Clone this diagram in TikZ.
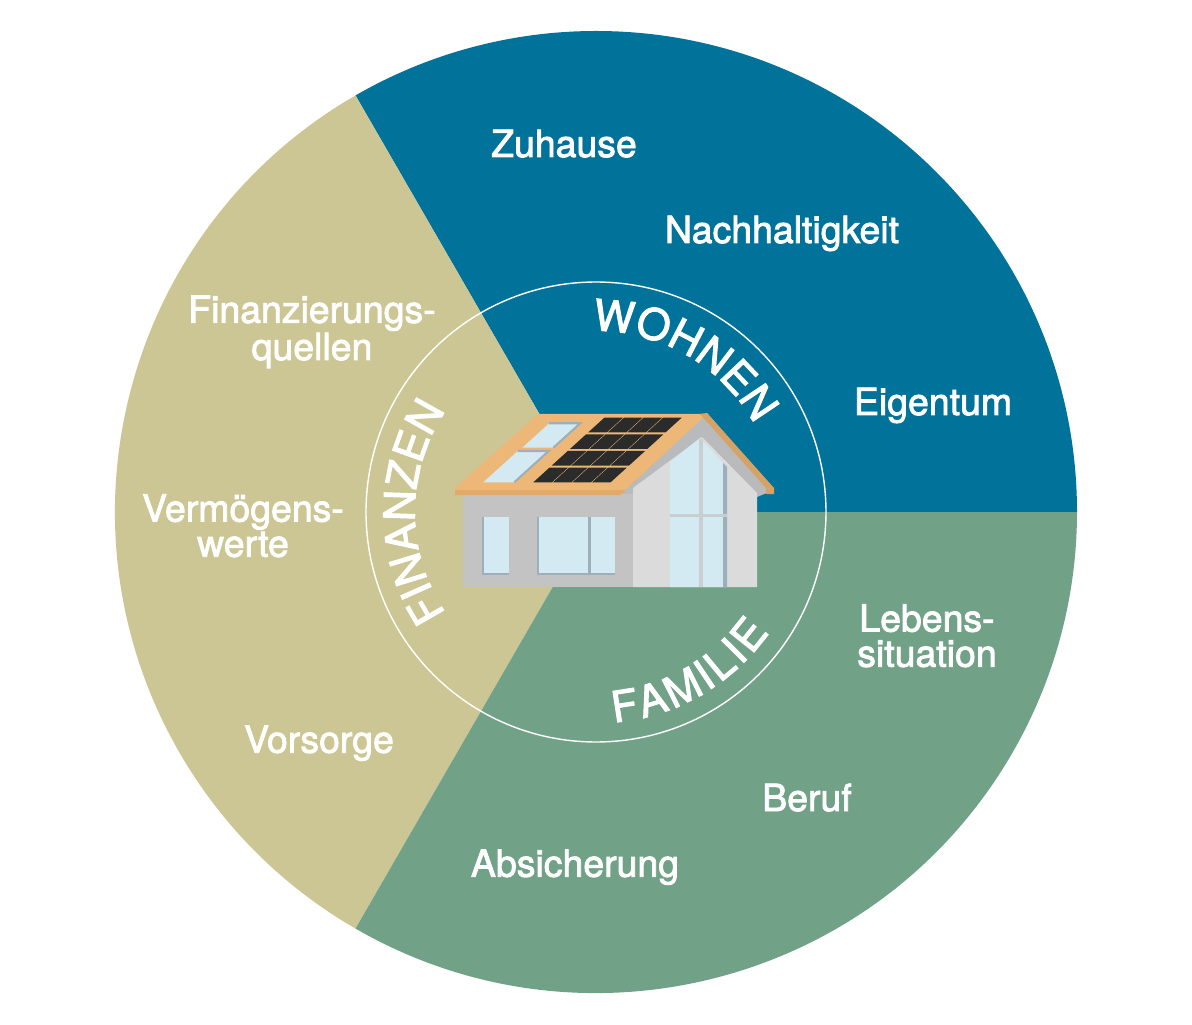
\documentclass[tikz,border=0pt]{standalone}
\usepackage{fontspec}
\newfontfamily\labelfont{TeX Gyre Heros}[FakeBold=2.2]
\usetikzlibrary{decorations.text}
\definecolor{wohnblue}{HTML}{017299}
\definecolor{finanztan}{HTML}{CCC695}
\definecolor{familiegreen}{HTML}{71A288}
\definecolor{roofface}{HTML}{EDB877}
\definecolor{roofedge}{HTML}{E2AA68}
\definecolor{roofverge}{HTML}{D7A265}
\definecolor{wallfront}{HTML}{C3C3C3}
\definecolor{wallgable}{HTML}{DBDBDB}
\definecolor{soffit}{HTML}{B9BABC}
\definecolor{glass}{HTML}{D4EAF3}
\definecolor{winframe}{HTML}{9DAFBA}
\definecolor{mullion}{HTML}{C9CED1}
\definecolor{solar}{HTML}{2B2B2B}

\begin{document}
\begin{tikzpicture}[x=0.02cm, y=0.02cm,
  lbl/.style={text=white, font=\labelfont\fontsize{21.3}{20}\selectfont, align=center, anchor=base, inner sep=0pt},
  ring/.style={decorate, decoration={text along path, text align=center,
    text={|\labelfont\fontsize{24.5}{25}\selectfont\color{white}|#1}}}]
  \fill[white] (-596,-512) rectangle (596,512);
  \useasboundingbox (-596,-512) rectangle (596,512);

  \fill[wohnblue]     (0,0) -- (0:481)   arc[start angle=0,   end angle=120, radius=481] -- cycle;
  \fill[finanztan]    (0,0) -- (120:481) arc[start angle=120, end angle=240, radius=481] -- cycle;
  \fill[familiegreen] (0,0) -- (240:481) arc[start angle=240, end angle=360, radius=481] -- cycle;
  \draw[white, line width=0.8pt] (0,0) circle (230);

  \path[ring=WOHNEN]   (100:181) arc[start angle=100, end angle=20,  radius=181];
  \path[ring=FINANZEN] (220:181) arc[start angle=220, end angle=140, radius=181];
  \path[ring={{F\kern1.7pt}{A\kern1.7pt}{M\kern1.7pt}{I\kern1.7pt}{L\kern1.7pt}{I\kern1.7pt}E}]
    (255:211) arc[start angle=255, end angle=345, radius=211];

  % house
  \fill[soffit] (24,17) -- (111,99) -- (178,22) -- (161,15) -- cycle;
  \fill[wallgable] (37,24) -- (106,75) -- (161,19) -- (161,-75) -- (37,-75) -- cycle;
  \fill[wallfront] (-133,-75) rectangle (37,18);
  \fill[glass] (74,-75) -- (74,50) -- (104,74) -- (131,45) -- (131,-75) -- cycle;
  \fill[winframe] (127,-75) -- (127,49) -- (131,45) -- (131,-75) -- cycle;
  \draw[mullion, line width=1.9pt] (105,-75) -- (105,73);
  \draw[mullion, line width=2pt] (74,-3.5) -- (131,-3.5);
  \fill[glass] (-114,-63) rectangle (-87,-5);
  \draw[winframe, line width=1.5pt] (-113,-5) -- (-113,-62) -- (-87,-62);
  \fill[glass] (-59,-63) rectangle (19,-5);
  \draw[winframe, line width=1.5pt] (-58,-5) -- (-58,-62) -- (19,-62);
  \fill[winframe] (-8.3,-63) rectangle (-5,-5);
  \fill[roofface] (-141,17) -- (-141,24) -- (-58,98) -- (111,98) -- (24,17) -- cycle;
  \fill[roofedge] (-141,17) -- (-141,22) -- (29,22) -- (24,17) -- cycle;
  \fill[roofverge] (111,99) -- (178,24) -- (178,18) -- (170,18) -- (170,24) -- (104,98) -- cycle;
  \begin{scope}[shift={(-112.7,29.7)}, xslant=1.1]
    \fill[glass] (0,0) rectangle (31,31.3);
    \fill[glass] (1,34.6) rectangle (32,59);
    \draw[winframe, line width=1.2pt] (0,31.3) -- (31,31.3) -- (31,0);
    \draw[winframe, line width=1.2pt] (1,59) -- (32,59) -- (32,34.6);
  \end{scope}
  \begin{scope}[shift={(-64.3,28.7)}, xslant=1.1]
    \foreach \r in {0,...,3}
      \foreach \c in {0,...,3}
        \fill[solar] (\c*19.575+0.5, \r*16.65+1) rectangle ++(18.6,14.65);
  \end{scope}

  \node[lbl] (zuhause)     at (-32,355)    {Zuhause};
  \node[lbl] (nachhaltig)  at (186,269)    {Nachhaltigkeit};
  \node[lbl] (eigentum)    at (337,97)     {Eigentum};
  \node[lbl] (lebens)      at (331,-154.7) {Lebens-\\situation};
  \node[lbl] (finanzquell) at (-284,152)   {Finanzierungs-\\quellen};
  \node[lbl] (vermoegen)   at (-353,-44.7) {Vermögens-\\werte};
  \node[lbl] (vorsorge)    at (-277,-240.7) {Vorsorge};
  \node[lbl] (beruf)       at (211,-299)   {Beruf};
  \node[lbl] (absicher)    at (-21,-364.7) {Absicherung};
\end{tikzpicture}
\end{document}
